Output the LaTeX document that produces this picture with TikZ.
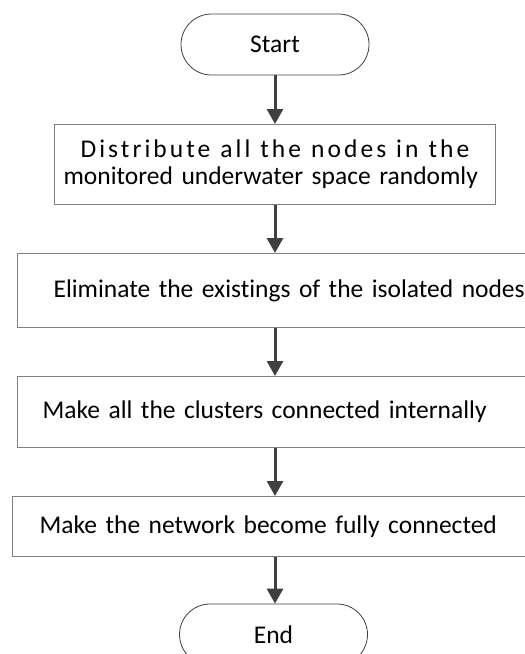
\documentclass[tikz,border=0pt]{standalone}
\usepackage{fontspec}
\setmainfont{Carlito}[Ligatures={NoCommon}]
\usepackage{tikz}
\usetikzlibrary{shapes.misc,arrows.meta}
\definecolor{arrowgray}{HTML}{404040}
\definecolor{edgegray}{HTML}{7F7F7F}

\begin{document}
\begin{tikzpicture}[x=1pt,y=-1pt,
  font=\fontsize{25.5}{27}\selectfont,
  terminal/.style={draw=arrowgray, line width=0.8pt, rounded rectangle,
    minimum width=188pt, minimum height=61pt, inner sep=0pt},
  procbox/.style={draw=edgegray, line width=1.2pt, rectangle, align=left,
    anchor=north west, inner ysep=0pt},
  flow/.style={draw=arrowgray, line width=3pt,
    -{Triangle[width=16pt,length=15pt]}}]
\useasboundingbox (0,0) rectangle (525,654);
\node [terminal] (start) at (275,44.5) {Start};
\node [procbox, text width=423pt, inner xsep=9pt, minimum height=80pt] (dist) at (54,124)
  {\hspace*{17pt}{\addfontfeature{LetterSpace=12}\spaceskip=10pt Distribute all the nodes in the}\\
   monitored underwater space randomly};
\node [procbox, text width=500pt, inner xsep=36pt, minimum height=74pt] (elim) at (17,253)
  {Eliminate the existings of the isolated nodes};
\node [procbox, text width=470pt, inner xsep=25pt, minimum height=71pt] (clus) at (17,376)
  {Make all the clusters connected internally};
\node [procbox, text width=470pt, inner xsep=27pt, minimum height=60pt] (netw) at (12,496)
  {Make the network become fully connected};
\node [terminal] (end) at (273.5,634.5) {End};
\draw [flow] (start.south) -- (start |- dist.north);
\draw [flow] (start |- dist.south) -- (start |- elim.north);
\draw [flow] (start |- elim.south) -- (start |- clus.north);
\draw [flow] (start |- clus.south) -- (start |- netw.north);
\draw [flow] (start |- netw.south) -- (start |- end.north);
\end{tikzpicture}
\end{document}
